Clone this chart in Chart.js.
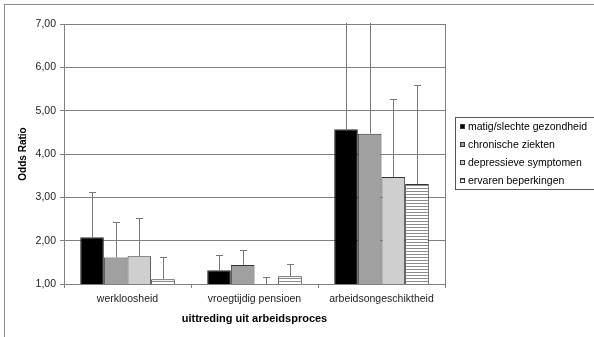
<!DOCTYPE html>
<html>
<head>
<meta charset="utf-8">
<script src="https://cdn.jsdelivr.net/npm/chart.js@4/dist/chart.umd.min.js"></script>
<style>
  html, body { margin: 0; padding: 0; background: #fff; }
  #wrap { width: 594px; height: 337px; }
</style>
</head>
<body>
<div id="wrap"><canvas id="barChart" width="594" height="337"></canvas></div>
<script>
// categories and tick labels
var categories = ["werkloosheid", "vroegtijdig pensioen", "arbeidsongeschiktheid"];
var seriesLabels = ["matig/slechte gezondheid", "chronische ziekten", "depressieve symptomen", "ervaren beperkingen"];
var yTicks = [1, 2, 3, 4, 5, 6, 7];

// odds ratios per series (one value per category)
var matigSlecht = [2.08, 1.32, 4.57];
var chronisch = [1.61, 1.44, 4.47];
var depressief = [1.64, 0.98, 3.47];
var beperkingen = [1.11, 1.18, 3.31];

// upper limit of the confidence interval per series
var matigSlechtUpper = [3.12, 1.68, 8.50];
var chronischUpper = [2.42, 1.79, 8.20];
var depressiefUpper = [2.52, 1.16, 5.27];
var beperkingenUpper = [1.62, 1.47, 5.59];

let OddsChart = function () {
    let hatch = function () {
        let c = document.createElement('canvas');
        c.width = 6; c.height = 3;
        let g = c.getContext('2d');
        g.fillStyle = '#ffffff';
        g.fillRect(0, 0, 6, 3);
        g.fillStyle = '#8a8a8a';
        g.fillRect(0, 2, 6, 1);
        return g.createPattern(c, 'repeat');
    };

    // frame, plot border, error bars and legend
    let extras = {
        id: 'extras',
        beforeDraw: function (chart) {
            let ctx = chart.ctx;
            ctx.save();
            ctx.fillStyle = '#fff';
            ctx.fillRect(0, 0, chart.width, chart.height);
            ctx.strokeStyle = '#8c8c8c';
            ctx.lineWidth = 1;
            ctx.strokeRect(4.5, 4.5, chart.width + 10, chart.height + 10);
            ctx.restore();
        },
        afterDatasetsDraw: function (chart) {
            let ctx = chart.ctx;
            let a = chart.chartArea;
            let yScale = chart.scales.y;
            ctx.save();
            ctx.strokeStyle = '#808080';
            ctx.lineWidth = 1;
            ctx.beginPath();
            ctx.moveTo(Math.round(a.right) + 0.5, a.top);
            ctx.lineTo(Math.round(a.right) + 0.5, a.bottom);
            ctx.stroke();

            ctx.beginPath();
            ctx.rect(a.left, a.top - 1, a.right - a.left, a.bottom - a.top + 1);
            ctx.clip();
            ctx.strokeStyle = '#777777';
            chart.data.datasets.forEach(function (ds, i) {
                let meta = chart.getDatasetMeta(i);
                meta.data.forEach(function (bar, j) {
                    let x = Math.round(bar.x) + 0.5;
                    let y0 = Math.min(bar.y, a.bottom);
                    let y1 = Math.round(yScale.getPixelForValue(ds.upper[j])) + 0.5;
                    ctx.beginPath();
                    ctx.moveTo(x, y0);
                    ctx.lineTo(x, y1);
                    ctx.moveTo(x - 3.5, y1);
                    ctx.lineTo(x + 3.5, y1);
                    ctx.stroke();
                });
            });
            ctx.restore();

            // legend
            let lx = 455.5, ly = 117.5;
            ctx.save();
            ctx.strokeStyle = '#555';
            ctx.lineWidth = 1;
            ctx.strokeRect(lx, ly, 160, 72);
            ctx.font = '10.5px "Liberation Sans", Arial, sans-serif';
            ctx.textBaseline = 'middle';
            chart.data.datasets.forEach(function (ds, i) {
                let cy = Math.round(ly + 9 + i * 18);
                ctx.fillStyle = ds.backgroundColor;
                ctx.fillRect(lx + 4.5, cy - 3, 5, 5);
                ctx.strokeStyle = '#333';
                ctx.strokeRect(lx + 5, cy - 2.5, 4, 4);
                ctx.fillStyle = '#000';
                ctx.fillText(ds.label, lx + 12.5, cy);
            });
            ctx.restore();
        }
    };

    let _OddsChart = function () {
        let pattern = hatch();
        let values = [matigSlecht, chronisch, depressief, beperkingen];
        let uppers = [matigSlechtUpper, chronischUpper, depressiefUpper, beperkingenUpper];
        let fills = ['#000000', '#a0a0a0', '#cfcfcf', pattern];
        let datasets = seriesLabels.map(function (label, i) {
            return {
                label: label,
                data: values[i],
                upper: uppers[i],
                backgroundColor: fills[i],
                borderColor: '#333333',
                borderWidth: 1,
                borderSkipped: 'bottom',
                categoryPercentage: 0.745,
                barPercentage: 1.0
            };
        });

        let ctx = document.getElementById('barChart').getContext('2d');
        new Chart(ctx, {
            type: 'bar',
            data: { labels: categories, datasets: datasets },
            options: {
                responsive: false,
                animation: false,
                layout: { padding: { left: 4, top: 24, right: 149, bottom: 0 } },
                plugins: { legend: { display: false }, tooltip: { enabled: false } },
                scales: {
                    x: {
                        grid: { display: true, drawOnChartArea: false, drawTicks: true, tickLength: 4, color: '#808080', offset: true },
                        border: { color: '#808080' },
                        ticks: { color: '#222', padding: 5, font: { family: '"Liberation Sans", Arial', size: 10.5 } },
                        title: { display: true, text: 'uittreding uit arbeidsproces', color: '#000', padding: { top: 0, bottom: 11 },
                                 font: { family: '"Liberation Sans", Arial', size: 11, weight: 'bold' } },
                        afterFit: function (s) { s.height = 53; }
                    },
                    y: {
                        min: 1,
                        max: 7,
                        afterBuildTicks: function (s) { s.ticks = yTicks.map(function (v) { return { value: v }; }); },
                        grid: { color: '#808080', tickLength: 4 },
                        border: { color: '#808080' },
                        ticks: {
                            color: '#222', padding: 4,
                            font: { family: '"Liberation Sans", Arial', size: 10.5 },
                            callback: function (v) { return v.toFixed(2).replace('.', ','); }
                        },
                        title: { display: true, text: 'Odds Ratio', color: '#000', padding: { top: 13, bottom: 0 },
                                 font: { family: '"Liberation Sans", Arial', size: 10, weight: 'bold' } },
                        afterFit: function (s) { s.width = 60; }
                    }
                }
            },
            plugins: [extras]
        });
    };
    return {
        init: () => {
            _OddsChart();
        }
    }
}();
document.addEventListener('DOMContentLoaded', function () {
    OddsChart.init();
})
</script>
</body>
</html>
